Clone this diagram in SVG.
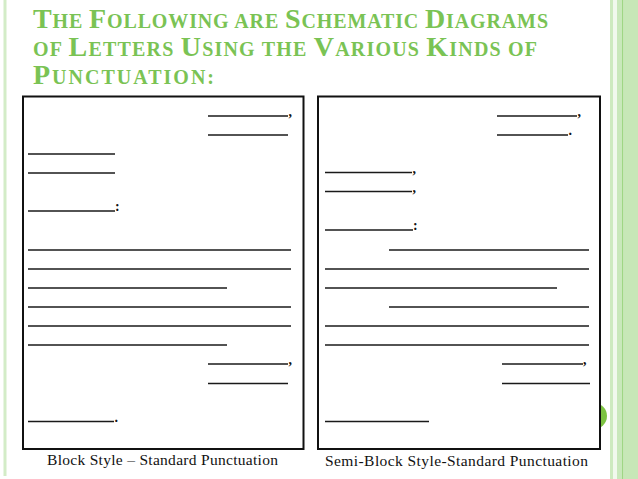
<svg xmlns="http://www.w3.org/2000/svg" width="638" height="479" viewBox="0 0 638 479">
<style>
.t{font-family:"Liberation Serif",serif;font-weight:bold;fill:#7ac354}
.b{font-size:28px}
.s{font-size:20px}
.ln{stroke:#1a1a1a;stroke-width:1.4}
.box{fill:#fff;stroke:#111;stroke-width:2}
.p{font-family:"Liberation Serif",serif;font-size:14px;font-weight:bold;fill:#111}
.cap{font-family:"Liberation Serif",serif;font-size:15.5px;fill:#111}
</style>
<rect width="638" height="479" fill="#fff"/>
<g id="frame">
<rect x="3.5" y="0" width="3" height="476" fill="#d3ecc7"/>
<rect x="610" y="0" width="3" height="479" fill="#cdeabf"/>
<rect x="613" y="0" width="4" height="479" fill="#f1f9ed"/>
<rect x="617" y="0" width="5" height="479" fill="#c9e8bb"/>
<rect x="622" y="0" width="1.6" height="479" fill="#9fd684"/>
<rect x="623.6" y="0" width="14.4" height="479" fill="#c7e7b7"/>
<circle cx="594" cy="416" r="13" fill="#7cc242"/>
</g>
<g id="title">
<text class="t" x="33" y="28" textLength="515" lengthAdjust="spacing"><tspan class="b">T</tspan><tspan class="s">HE </tspan><tspan class="b">F</tspan><tspan class="s">OLLOWING ARE </tspan><tspan class="b">S</tspan><tspan class="s">CHEMATIC </tspan><tspan class="b">D</tspan><tspan class="s">IAGRAMS</tspan></text>
<text class="t" x="33" y="56" textLength="504" lengthAdjust="spacing"><tspan class="s">OF </tspan><tspan class="b">L</tspan><tspan class="s">ETTERS  </tspan><tspan class="b">U</tspan><tspan class="s">SING THE </tspan><tspan class="b">V</tspan><tspan class="s">ARIOUS </tspan><tspan class="b">K</tspan><tspan class="s">INDS OF</tspan></text>
<text class="t" x="33" y="84" textLength="181" lengthAdjust="spacing"><tspan class="b">P</tspan><tspan class="s">UNCTUATION:</tspan></text>
</g>
<g id="block-style">
<rect class="box" x="23" y="96.5" width="280.5" height="352.5"/>
<g class="ln">
<line x1="208" y1="116" x2="288" y2="116"/>
<line x1="208" y1="135" x2="288" y2="135"/>
<line x1="28" y1="154" x2="115" y2="154"/>
<line x1="28" y1="173" x2="115" y2="173"/>
<line x1="28" y1="211" x2="115" y2="211"/>
<line x1="28" y1="250" x2="291" y2="250"/>
<line x1="28" y1="269" x2="291" y2="269"/>
<line x1="28" y1="288" x2="227" y2="288"/>
<line x1="28" y1="307" x2="291" y2="307"/>
<line x1="28" y1="326" x2="291" y2="326"/>
<line x1="28" y1="345" x2="227" y2="345"/>
<line x1="208" y1="364" x2="288" y2="364"/>
<line x1="208" y1="383.5" x2="288" y2="383.5"/>
<line x1="28" y1="421.5" x2="114" y2="421.5"/>
</g>
<text class="p" x="288.5" y="116">,</text>
<text class="p" x="115" y="211">:</text>
<text class="p" x="288.5" y="364">,</text>
<text class="p" x="114.5" y="421.5">.</text>
<text class="cap" x="47" y="465" textLength="231" lengthAdjust="spacing">Block Style – Standard Punctuation</text>
</g>
<g id="semi-block-style">
<rect class="box" x="318" y="96.5" width="282" height="352.5"/>
<g class="ln">
<line x1="497" y1="116" x2="577" y2="116"/>
<line x1="497" y1="135" x2="568" y2="135"/>
<line x1="325" y1="172.5" x2="412" y2="172.5"/>
<line x1="325" y1="191.5" x2="412" y2="191.5"/>
<line x1="325" y1="230" x2="413" y2="230"/>
<line x1="389" y1="250" x2="589" y2="250"/>
<line x1="325" y1="269" x2="589" y2="269"/>
<line x1="325" y1="288" x2="557" y2="288"/>
<line x1="389" y1="307" x2="589" y2="307"/>
<line x1="325" y1="326" x2="589" y2="326"/>
<line x1="325" y1="345" x2="589" y2="345"/>
<line x1="502" y1="364" x2="583" y2="364"/>
<line x1="502" y1="383.5" x2="590" y2="383.5"/>
<line x1="325" y1="421.5" x2="429" y2="421.5"/>
</g>
<text class="p" x="577.5" y="116">,</text>
<text class="p" x="568.5" y="135">.</text>
<text class="p" x="412.5" y="172.5">,</text>
<text class="p" x="412.5" y="191.5">,</text>
<text class="p" x="413" y="230">:</text>
<text class="p" x="583" y="364">,</text>
<text class="cap" x="325" y="465.5" textLength="263" lengthAdjust="spacing">Semi-Block Style-Standard Punctuation</text>
</g>
</svg>
